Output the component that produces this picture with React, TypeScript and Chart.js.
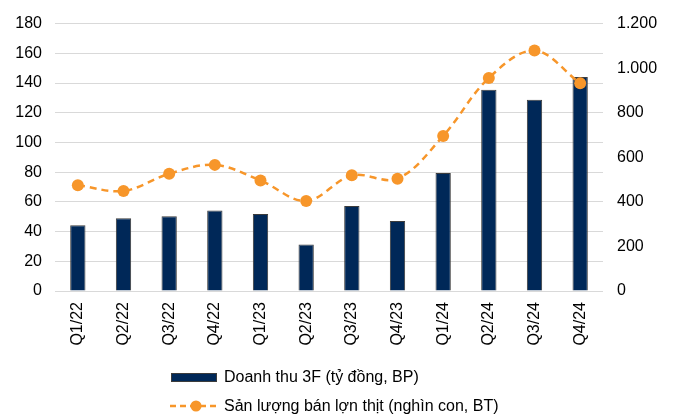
import React, { useEffect, useRef } from "react";
import { Chart, registerables } from "chart.js";

Chart.register(...registerables);

const categories = ["Q1/22", "Q2/22", "Q3/22", "Q4/22", "Q1/23", "Q2/23", "Q3/23", "Q4/23", "Q1/24", "Q2/24", "Q3/24", "Q4/24"];
const revenue = [44.2, 49, 50.4, 54.2, 51.8, 31.3, 57.3, 47.1, 79.5, 135.5, 128.7, 144];
const volume = [475, 449, 526, 566, 496, 404, 519, 504, 696, 956, 1079, 932];
const revenueLabel = "Doanh thu 3F (tỷ đồng, BP)";
const volumeLabel = "Sản lượng bán lợn thịt (nghìn con, BT)";

const BAR_COLOR = "#002858";
const LINE_COLOR = "#F7962A";
const FONT = "'Liberation Sans', Arial, sans-serif";

function fmtDot(v: number) {
  return String(v).replace(/\B(?=(\d{3})+(?!\d))/g, ".");
}

export default function App() {
  const ref = useRef<HTMLCanvasElement | null>(null);

  useEffect(() => {
    document.body.style.margin = "0";
    const ctx = ref.current!.getContext("2d")!;
    const chart = new Chart(ctx, {
      data: {
        labels: categories,
        datasets: [
          {
            type: "line",
            label: volumeLabel,
            data: volume,
            yAxisID: "y2",
            borderColor: LINE_COLOR,
            backgroundColor: LINE_COLOR,
            borderWidth: 2.5,
            borderDash: [7, 5],
            tension: 0.35,
            pointRadius: 6,
            pointBorderWidth: 0,
            pointBackgroundColor: LINE_COLOR,
            order: 0,
          },
          {
            type: "bar",
            label: revenueLabel,
            data: revenue,
            yAxisID: "y",
            backgroundColor: BAR_COLOR,
            borderColor: "#3c3c3c",
            borderWidth: 1,
            barPercentage: 0.335,
            categoryPercentage: 1,
            order: 1,
          },
        ],
      } as any,
      options: {
        animation: false,
        responsive: false,
        layout: { padding: { top: 21, left: 0, right: 0, bottom: 0 } },
        plugins: { legend: { display: false }, tooltip: { enabled: false } },
        scales: {
          x: {
            grid: { display: false, drawTicks: false },
            border: { display: false },
            ticks: {
              minRotation: 90,
              maxRotation: 90,
              padding: 11,
              color: "#000",
              font: { family: FONT, size: 16 },
            },
            afterFit: (s: any) => {
              s.height = 125;
            },
          },
          y: {
            position: "left",
            min: 0,
            max: 180,
            ticks: {
              stepSize: 20,
              padding: 13,
              color: "#000",
              font: { family: FONT, size: 16 },
            },
            grid: { color: "#d9d9d9", lineWidth: 1, drawTicks: false },
            border: { display: false },
            afterFit: (s: any) => {
              s.width = 55;
            },
          },
          y2: {
            position: "right",
            min: 0,
            max: 1200,
            ticks: {
              stepSize: 200,
              padding: 14,
              color: "#000",
              font: { family: FONT, size: 16 },
              callback: (v: any) => fmtDot(Number(v)),
            },
            grid: { display: false, drawTicks: false },
            border: { display: false },
            afterFit: (s: any) => {
              s.width = 72;
            },
          },
        },
      } as any,
    });
    return () => chart.destroy();
  }, []);

  const textStyle: React.CSSProperties = {
    fontFamily: FONT,
    fontSize: 16,
    color: "#000",
    whiteSpace: "nowrap",
    lineHeight: "18px",
  };

  return (
    <div style={{ position: "relative", width: 675, height: 416 }}>
      <canvas ref={ref} width={675} height={416} style={{ display: "block" }} />
      <div style={{ position: "absolute", left: 171, top: 368, display: "flex", alignItems: "center" }}>
        <div style={{ width: 46, height: 9, background: BAR_COLOR, border: "1px solid #3c3c3c", boxSizing: "border-box" }} />
        <span style={{ ...textStyle, marginLeft: 7 }}>{revenueLabel}</span>
      </div>
      <div style={{ position: "absolute", left: 170, top: 397, display: "flex", alignItems: "center" }}>
        <svg width={49} height={12} style={{ display: "block" }}>
          <line x1={0} y1={6} x2={49} y2={6} stroke={LINE_COLOR} strokeWidth={2.5} strokeDasharray="6 4" />
          <circle cx={26} cy={6} r={5.5} fill={LINE_COLOR} />
        </svg>
        <span style={{ ...textStyle, marginLeft: 5 }}>{volumeLabel}</span>
      </div>
    </div>
  );
}
